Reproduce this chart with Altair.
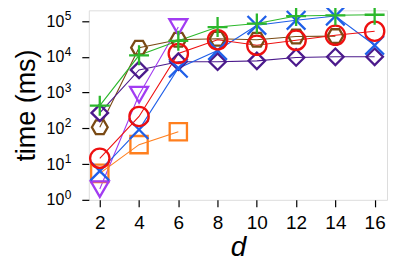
import altair as alt
import pandas as pd

d_vals = [2, 4, 6, 8, 10, 12, 14, 16]

green_plus = [430, 11000, 28000, 68000, 85000, 138000, 145000, 150000]
blue_x = [6.4, 92, 4800, 15000, 76000, 105000, 138000, 21000]
red_circle = [14.5, 215, 12400, 30000, 21000, 29000, 40000, 52000]
brown_hex = [107, 18000, 30000, 32000, 30000, 37000, 38000]
indigo_diamond = [270, 4300, 7300, 7300, 7700, 9600, 10000, 10000]
violet_tri = [2.0, 870, 68000]
orange_square = [5.5, 35, 80]

tick_values = [1, 10, 100, 1000, 10000, 100000]
tick_exps = ["0", "1", "2", "3", "4", "5"]

series = [
    ("brown", brown_hex),
    ("indigo", indigo_diamond),
    ("orange", orange_square),
    ("violet", violet_tri),
    ("blue", blue_x),
    ("red", red_circle),
    ("green", green_plus),
]
names = [s[0] for s in series]
colors = ["#7a4a14", "#4b1a8c", "#ff7f1e", "#a23cf2", "#1f5fe8", "#ee1010", "#2cb82c"]
shapes = [
    "M-1,0L-0.5,-0.866L0.5,-0.866L1,0L0.5,0.866L-0.5,0.866Z",
    "diamond",
    "square",
    "triangle-down",
    "M-1,-1L1,1M-1,1L1,-1",
    "circle",
    "M-1,0L1,0M0,-1L0,1",
]
sizes = [250, 400, 225, 256, 200, 250, 225]

rows = []
for order, (name, vals) in enumerate(series):
    for d, v in zip(d_vals, vals):
        rows.append({"d": d, "time": v, "series": name, "o": order})
df = pd.DataFrame(rows)
df_exp = pd.DataFrame({"time": tick_values, "exp": tick_exps})

x = alt.X("d:Q", scale=alt.Scale(domain=[1.44, 16.63], nice=False, zero=False),
          axis=alt.Axis(values=d_vals, title="d", titleFontStyle="italic",
                        titleFontSize=28, titleFontWeight="normal", labelFontSize=19,
                        tickSize=7, labelPadding=7, titlePadding=1, grid=False,
                        domain=False, tickColor="black", labelColor="black",
                        titleColor="black", tickWidth=1.2))
y_scale = alt.Scale(type="log", domain=[1, 10 ** 5.3], nice=False)
y = alt.Y("time:Q", scale=y_scale,
          axis=alt.Axis(values=tick_values, title="time (ms)",
                        titleFontSize=27, titleFontWeight="normal", labelFontSize=16,
                        labelExpr="'10'",
                        tickSize=7, labelPadding=18, titlePadding=6, grid=False,
                        domain=False, tickColor="black", labelColor="black",
                        titleColor="black", tickWidth=1.2))
color = alt.Color("series:N", scale=alt.Scale(domain=names, range=colors), legend=None)

lines = alt.Chart(df).mark_line(strokeWidth=1.1).encode(
    x=x, y=y, color=color, detail="series:N", order="d:Q")
points = alt.Chart(df).mark_point(filled=False, strokeWidth=2.3, opacity=1).encode(
    x=x, y=y, color=color,
    shape=alt.Shape("series:N", scale=alt.Scale(domain=names, range=shapes), legend=None),
    size=alt.Size("series:N", scale=alt.Scale(domain=names, range=sizes), legend=None),
    order="o:Q")
exps = alt.Chart(df_exp).mark_text(align="left", baseline="alphabetic", fontSize=12,
                                   color="black", dy=-1).encode(
    x=alt.value(-24), y=alt.Y("time:Q", scale=y_scale), text="exp:N")

chart = alt.layer(lines, points, exps).properties(
    width=299, height=190,
    autosize=alt.AutoSizeParams(type="none"),
    padding={"left": 81, "top": 2, "right": 4, "bottom": 62},
).configure_view(stroke="black", strokeWidth=2).configure(
    font="Liberation Sans")

chart.save("out.html", embed_options={"renderer": "svg", "actions": False})
